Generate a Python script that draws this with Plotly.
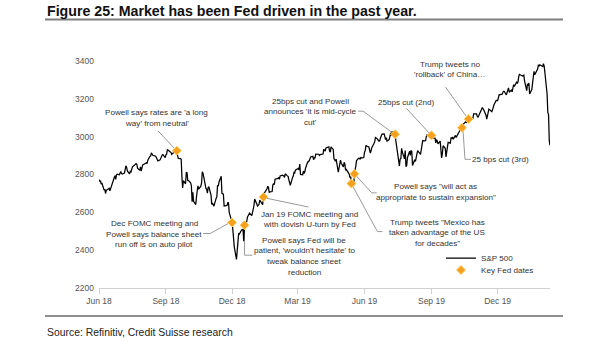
import plotly.graph_objects as go

# ---------------- data (S&P 500 daily closes, read/estimated from chart) ----------------
months = ["2018-06", "2018-07", "2018-08", "2018-09", "2018-10", "2018-11", "2018-12",
          "2019-01", "2019-02", "2019-03", "2019-04", "2019-05", "2019-06", "2019-07",
          "2019-08", "2019-09", "2019-10", "2019-11", "2019-12", "2020-01", "2020-02"]

trading_days = [
    [18, 19, 20, 21, 22, 25, 26, 27, 28, 29],
    [2, 3, 5, 6, 9, 10, 11, 12, 13, 16, 17, 18, 19, 20, 23, 24, 25, 26, 27, 30, 31],
    [1, 2, 3, 6, 7, 8, 9, 10, 13, 14, 15, 16, 17, 20, 21, 22, 23, 24, 27, 28, 29, 30, 31],
    [4, 5, 6, 7, 10, 11, 12, 13, 14, 17, 18, 19, 20, 21, 24, 25, 26, 27, 28],
    [1, 2, 3, 4, 5, 8, 9, 10, 11, 12, 15, 16, 17, 18, 19, 22, 23, 24, 25, 26, 29, 30, 31],
    [1, 2, 5, 6, 7, 8, 9, 12, 13, 14, 15, 16, 19, 20, 21, 23, 26, 27, 28, 29, 30],
    [3, 4, 6, 7, 10, 11, 12, 13, 14, 17, 18, 19, 20, 21, 24, 26, 27, 28, 31],
    [2, 3, 4, 7, 8, 9, 10, 11, 14, 15, 16, 17, 18, 22, 23, 24, 25, 28, 29, 30, 31],
    [1, 4, 5, 6, 7, 8, 11, 12, 13, 14, 15, 19, 20, 21, 22, 25, 26, 27, 28],
    [1, 4, 5, 6, 7, 8, 11, 12, 13, 14, 15, 18, 19, 20, 21, 22, 25, 26, 27, 28, 29],
    [1, 2, 3, 4, 5, 8, 9, 10, 11, 12, 15, 16, 17, 18, 22, 23, 24, 25, 26, 29, 30],
    [1, 2, 3, 6, 7, 8, 9, 10, 13, 14, 15, 16, 17, 20, 21, 22, 23, 24, 28, 29, 30, 31],
    [3, 4, 5, 6, 7, 10, 11, 12, 13, 14, 17, 18, 19, 20, 21, 24, 25, 26, 27, 28],
    [1, 2, 3, 5, 8, 9, 10, 11, 12, 15, 16, 17, 18, 19, 22, 23, 24, 25, 26, 29, 30, 31],
    [1, 2, 5, 6, 7, 8, 9, 12, 13, 14, 15, 16, 19, 20, 21, 22, 23, 26, 27, 28, 29, 30],
    [3, 4, 5, 6, 9, 10, 11, 12, 13, 16, 17, 18, 19, 20, 23, 24, 25, 26, 27, 30],
    [1, 2, 3, 4, 7, 8, 9, 10, 11, 14, 15, 16, 17, 18, 21, 22, 23, 24, 25, 28, 29, 30, 31],
    [1, 4, 5, 6, 7, 8, 11, 12, 13, 14, 15, 18, 19, 20, 21, 22, 25, 26, 27, 29],
    [2, 3, 4, 5, 6, 9, 10, 11, 12, 13, 16, 17, 18, 19, 20, 23, 24, 26, 27, 30, 31],
    [2, 3, 6, 7, 8, 9, 10, 13, 14, 15, 16, 17, 21, 22, 23, 24, 27, 28, 29, 30, 31],
    [3, 4, 5, 6, 7, 10, 11, 12, 13, 14, 18, 19, 20, 21, 24, 25, 26, 27, 28],
]

monthly_closes = [
    [2773.87, 2762.59, 2767.32, 2749.76, 2754.88, 2717.07, 2723.06, 2699.63, 2716.31, 2718.37],
    [2726.71, 2713.22, 2736.61, 2759.82, 2784.17, 2793.84, 2774.02, 2798.29, 2801.31, 2798.43,
     2809.55, 2815.62, 2804.49, 2801.83, 2806.98, 2820.40, 2846.07, 2837.44, 2818.82, 2802.60, 2816.29],
    [2813.36, 2827.22, 2840.35, 2850.40, 2858.45, 2857.70, 2853.58, 2833.28, 2821.93, 2839.96,
     2818.37, 2840.69, 2850.13, 2857.05, 2862.96, 2861.82, 2856.98, 2874.69, 2896.74, 2897.52,
     2914.04, 2901.13, 2901.52],
    [2896.72, 2888.60, 2878.05, 2871.68, 2877.13, 2887.89, 2888.92, 2904.18, 2904.98, 2888.80,
     2904.31, 2907.95, 2930.75, 2929.67, 2919.37, 2915.56, 2905.97, 2914.00, 2913.98],
    [2924.59, 2923.43, 2925.51, 2901.61, 2885.57, 2884.43, 2880.34, 2785.68, 2728.37, 2767.13,
     2750.79, 2809.92, 2809.21, 2768.78, 2767.78, 2755.88, 2740.69, 2656.10, 2705.57, 2658.69,
     2641.25, 2682.63, 2711.74],
    [2740.37, 2723.06, 2738.31, 2755.45, 2813.89, 2806.83, 2781.01, 2726.22, 2722.18, 2701.58,
     2730.20, 2736.27, 2690.73, 2641.89, 2649.93, 2632.56, 2673.45, 2682.17, 2743.79, 2737.80, 2760.17],
    [2790.37, 2700.06, 2695.95, 2633.08, 2637.72, 2636.78, 2651.07, 2650.54, 2599.95, 2545.94,
     2546.16, 2506.96, 2467.42, 2416.62, 2351.10, 2467.70, 2488.83, 2485.74, 2506.85],
    [2510.03, 2447.89, 2531.94, 2549.69, 2574.41, 2584.96, 2596.64, 2596.26, 2582.61, 2610.30,
     2616.10, 2635.96, 2670.71, 2632.90, 2638.70, 2642.33, 2664.76, 2643.85, 2640.00, 2681.05, 2704.10],
    [2706.53, 2724.87, 2737.70, 2731.61, 2706.05, 2707.88, 2709.80, 2744.73, 2753.03, 2745.73,
     2775.60, 2779.76, 2784.70, 2774.88, 2792.67, 2796.11, 2793.90, 2792.38, 2784.49],
    [2803.69, 2792.81, 2789.65, 2771.45, 2748.93, 2743.07, 2783.30, 2791.52, 2810.92, 2808.48,
     2822.48, 2832.94, 2832.57, 2824.23, 2854.88, 2800.71, 2798.36, 2818.46, 2805.37, 2815.44, 2834.40],
    [2867.19, 2867.24, 2873.40, 2879.39, 2892.74, 2895.77, 2878.20, 2888.21, 2888.32, 2907.41,
     2905.58, 2907.06, 2900.45, 2905.03, 2907.97, 2933.68, 2927.25, 2926.17, 2939.88, 2943.03, 2945.83],
    [2923.73, 2917.52, 2945.64, 2932.47, 2884.05, 2879.42, 2870.72, 2881.40, 2811.87, 2834.41,
     2850.96, 2876.32, 2859.53, 2840.23, 2864.36, 2856.27, 2822.24, 2826.06, 2802.39, 2783.02,
     2788.86, 2752.06],
    [2744.45, 2803.27, 2826.15, 2843.49, 2873.34, 2886.73, 2885.72, 2879.84, 2891.64, 2886.98,
     2889.67, 2917.75, 2926.46, 2954.18, 2950.46, 2945.35, 2917.38, 2913.78, 2924.92, 2941.76],
    [2964.33, 2973.01, 2995.82, 2990.41, 2975.95, 2979.63, 2993.07, 2999.91, 3013.77, 3014.30,
     3004.04, 2984.42, 2995.11, 2976.61, 2985.03, 3005.47, 3019.56, 3003.67, 3025.86, 3020.97,
     3013.18, 2980.38],
    [2953.56, 2932.05, 2844.74, 2881.77, 2883.98, 2938.09, 2918.65, 2882.70, 2926.32, 2840.60,
     2847.60, 2888.68, 2923.65, 2900.51, 2924.43, 2922.95, 2847.11, 2878.38, 2869.16, 2887.94,
     2924.58, 2926.46],
    [2906.27, 2937.78, 2976.00, 2978.71, 2978.43, 2979.39, 3000.93, 3009.57, 3007.39, 2997.96,
     3005.70, 3006.73, 3006.79, 2992.07, 2991.78, 2966.60, 2984.87, 2977.62, 2961.79, 2976.74],
    [2940.25, 2887.61, 2910.63, 2952.01, 2938.79, 2893.06, 2919.40, 2938.13, 2970.27, 2966.15,
     2995.68, 2989.69, 2997.95, 2986.20, 3006.72, 2995.99, 3004.52, 3010.29, 3022.55, 3039.42,
     3036.89, 3046.77, 3037.56],
    [3066.91, 3078.27, 3074.62, 3076.78, 3085.18, 3093.08, 3087.01, 3091.84, 3094.04, 3096.63,
     3120.46, 3122.03, 3120.18, 3108.46, 3103.54, 3110.29, 3133.64, 3140.52, 3153.63, 3140.98],
    [3113.87, 3093.20, 3112.76, 3117.43, 3145.91, 3135.96, 3132.52, 3141.63, 3168.57, 3168.80,
     3191.45, 3192.52, 3191.14, 3205.37, 3221.22, 3224.01, 3223.38, 3239.91, 3240.02, 3221.29, 3230.78],
    [3257.85, 3234.85, 3246.28, 3237.18, 3253.05, 3274.70, 3265.35, 3288.13, 3283.15, 3289.29,
     3316.81, 3329.62, 3320.79, 3321.75, 3325.54, 3295.47, 3243.63, 3276.24, 3273.40, 3283.66, 3225.52],
    [3248.92, 3297.59, 3334.69, 3345.78, 3327.71, 3352.09, 3357.75, 3379.45, 3373.94, 3380.16,
     3370.29, 3386.15, 3373.23, 3337.75, 3225.89, 3128.21, 3116.39, 2978.76, 2954.22],
]

# Key Fed dates (markers sit on the S&P 500 line)
event_dates = ["2018-10-03", "2018-12-18", "2019-01-04", "2019-01-30", "2019-05-31",
               "2019-06-04", "2019-07-30", "2019-09-18", "2019-10-30", "2019-11-08"]

event_labels = [
    ["Powell says rates are 'a long", "way' from neutral'"],
    ["Dec FOMC meeting and", "Powell says balance sheet", "run off is on auto pilot"],
    ["Powell says Fed will be", "patient, 'wouldn't hesitate' to", "tweak balance sheet", "reduction"],
    ["Jan 19 FOMC meeting and", "with dovish U-turn by Fed"],
    ["Trump tweets \"Mexico has", "taken advantage of the US", "for decades\""],
    ["Powell says \"will act as", "appropriate to sustain expansion\""],
    ["25bps cut and Powell", "announces 'it is mid-cycle", "cut'"],
    ["25bps cut (2nd)"],
    ["25 bps cut (3rd)"],
    ["Trump tweets no", "'rollback' of China\u2026"],
]

x_tick_vals = ["2018-06-18", "2018-09-18", "2018-12-18", "2019-03-18",
               "2019-06-18", "2019-09-18", "2019-12-18"]
x_tick_text = ["Jun 18", "Sep 18", "Dec 18", "Mar 19", "Jun 19", "Sep 19", "Dec 19"]

# ---------------- build series ----------------
dates, sp500 = [], []
for m, ds, cs in zip(months, trading_days, monthly_closes):
    assert len(ds) == len(cs), m
    dates += [f"{m}-{d:02d}" for d in ds]
    sp500 += cs
lookup = dict(zip(dates, sp500))
event_values = [lookup[d] for d in event_dates]

# ---------------- layout helpers (pixels; x right, y down, relative to marker) ----------------
label_offsets = [(-20, -38), (-78, 1), (60, 15), (46, 17), (86, 38.5),
                 (81.5, 13), (-85, -33), (-25, -33), (39, 32), (-19, -55)]
leader_paths = [
    [(-19, -20), (-2, -2)],
    [(-29, 11), (-22, 11), (-2, 0)],
    [(0, 3), (0, 30), (8, 30)],
    [(2, 1), (45, 10)],
    [(1, 2), (26, 48), (31, 48)],
    [(1, 1), (17.5, 19), (22.5, 19)],
    [(-37, -23), (-32, -23), (-2, -1)],
    [(-25, -27), (-1, -1)],
    [(1, 2), (3, 31.5), (9, 31.5)],
    [(-23, -32), (-1, -1)],
]
LINE_GAP = 10.7
FONT = "Liberation Sans, Arial, sans-serif"
W, H = 605, 341
L, R, T, B = 99, 55, 61, 53
PW, PH = W - L - R, H - T - B


def px(xp):
    return (xp - L) / PW


def py(yp):
    return (H - B - yp) / PH


fig = go.Figure()
fig.add_trace(go.Scatter(x=dates, y=sp500, mode="lines", name="S&P 500",
                         line=dict(color="black", width=1.25), legend="legend",
                         hoverinfo="skip"))
fig.add_trace(go.Scatter(x=event_dates, y=event_values, mode="markers", name="Key Fed dates",
                         marker=dict(symbol="diamond", size=7, color="#F5A01C",
                                     line=dict(color="#FFD36E", width=1)),
                         legend="legend2", hoverinfo="skip"))

annotations = []
shapes = []
for d, v, lines, (dx, dy), path in zip(event_dates, event_values, event_labels,
                                       label_offsets, leader_paths):
    for i, t in enumerate(lines):
        annotations.append(dict(x=d, y=v, xref="x", yref="y", text=t, showarrow=False,
                                xanchor="center", yanchor="middle",
                                xshift=dx, yshift=-(dy + i * LINE_GAP),
                                font=dict(family=FONT, size=8.1, color="#333333")))
    p = "M" + " L".join(f"{x},{-y}" for x, y in path)
    shapes.append(dict(type="path", xref="x", yref="y", xsizemode="pixel", ysizemode="pixel",
                       xanchor=d, yanchor=v, path=p, layer="below",
                       line=dict(color="#9a9a9a", width=1)))

# title, rules and source
annotations.append(dict(xref="paper", yref="paper", x=px(45), y=py(11), xanchor="left",
                        yanchor="middle", showarrow=False,
                        text="<b>Figure 25: Market has been Fed driven in the past year.</b>",
                        font=dict(family=FONT, size=14.2, color="#111111")))
annotations.append(dict(xref="paper", yref="paper", x=px(45), y=py(332), xanchor="left",
                        yanchor="middle", showarrow=False,
                        text="Source: Refinitiv, Credit Suisse research",
                        font=dict(family=FONT, size=10.4, color="#222222")))
shapes.append(dict(type="line", xref="paper", yref="paper", x0=px(45), x1=px(563),
                   y0=py(19.5), y1=py(19.5), line=dict(color="#808080", width=2)))
shapes.append(dict(type="line", xref="paper", yref="paper", x0=px(45), x1=px(563),
                   y0=py(316), y1=py(316), line=dict(color="#6a6a6a", width=1.5)))

tickfont = dict(family=FONT, size=8.5, color="#555555")
legfont = dict(family=FONT, size=8.1, color="#333333")
fig.update_layout(
    width=W, height=H, margin=dict(l=L, r=R, t=T, b=B),
    paper_bgcolor="white", plot_bgcolor="white",
    font=dict(family=FONT, size=8.5, color="#333333"),
    showlegend=True,
    legend=dict(x=px(441), y=py(258), xanchor="left", yanchor="middle",
                bgcolor="rgba(0,0,0,0)", font=legfont, itemwidth=30),
    legend2=dict(x=px(441), y=py(270), xanchor="left", yanchor="middle",
                 bgcolor="rgba(0,0,0,0)", font=legfont, itemwidth=30),
    xaxis=dict(type="date", range=["2018-06-18", "2020-02-28"], tickvals=x_tick_vals,
               ticktext=x_tick_text, showgrid=False, zeroline=False, showline=True,
               linecolor="#d0d0d0", linewidth=1, ticks="outside", ticklen=5,
               tickcolor="#d0d0d0", tickfont=tickfont),
    yaxis=dict(range=[2200, 3400], dtick=200, showgrid=False, zeroline=False,
               showline=False, ticks="", tickfont=tickfont, ticklabelstandoff=4),
    annotations=annotations, shapes=shapes,
)

fig.write_html("out.html")
